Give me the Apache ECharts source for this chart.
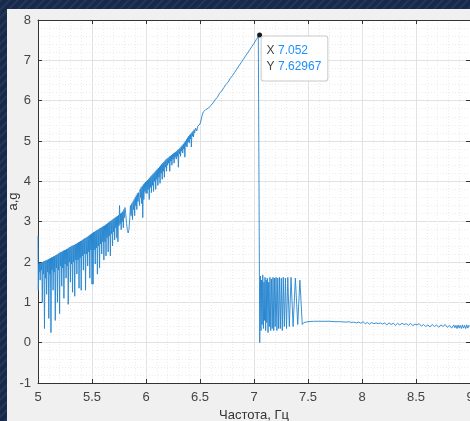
<!DOCTYPE html>
<html><head><meta charset="utf-8">
<script src="https://cdn.jsdelivr.net/npm/echarts@6/dist/echarts.min.js"></script>
<style>
html,body{margin:0;padding:0;width:470px;height:421px;overflow:hidden;}
body{background:#182a4c;background-image:repeating-linear-gradient(135deg,rgba(255,255,255,0.05) 0px,rgba(255,255,255,0.05) 2px,rgba(0,0,0,0) 2px,rgba(0,0,0,0) 6px);}
#panel{position:absolute;left:7px;top:9px;width:463px;height:412px;background:#f0f0f0;}
#chart{position:absolute;left:0;top:0;width:470px;height:421px;}
</style></head>
<body><div id="panel"></div><div id="chart"></div>
<script>
// x tick labels / axis
const xTicks = [5, 5.5, 6, 6.5, 7, 7.5, 8, 8.5, 9];
const yTicks = [-1, 0, 1, 2, 3, 4, 5, 6, 7, 8];
const xName = 'Частота, Гц';
const yName = 'a,g';
const peak = [7.052, 7.62967];

// segment 1: 5.00 - 5.50, deep dips
const seg1 = [[5.000,2.65],[5.003,1.30],[5.006,1.95],[5.010,1.75],[5.015,1.98],[5.020,1.55],[5.025,1.97],[5.030,1.80],[5.035,2.00],[5.040,1.00],[5.045,2.00],[5.050,1.70],[5.055,2.02],[5.060,0.35],[5.065,2.03],[5.070,1.60],[5.075,2.04],[5.080,1.20],[5.085,2.05],[5.090,1.75],[5.095,2.07],[5.100,0.60],[5.105,2.08],[5.110,1.70],[5.115,2.10],[5.120,0.25],[5.125,2.11],[5.130,1.80],[5.135,2.12],[5.140,1.30],[5.145,2.14],[5.150,1.75],[5.155,2.15],[5.160,0.55],[5.165,2.17],[5.170,1.85],[5.175,2.18],[5.180,1.00],[5.185,2.20],[5.190,1.80],[5.195,2.22],[5.200,0.72],[5.205,2.24],[5.210,1.90],[5.215,2.25],[5.220,1.40],[5.225,2.26],[5.230,1.85],[5.235,2.28],[5.240,1.10],[5.245,2.29],[5.250,1.95],[5.255,2.30],[5.260,1.60],[5.265,2.32],[5.270,1.90],[5.275,2.33],[5.280,0.95],[5.285,2.35],[5.290,2.00],[5.295,2.37],[5.300,1.50],[5.305,2.38],[5.310,1.95],[5.315,2.40],[5.320,1.25],[5.325,2.41],[5.330,2.00],[5.335,2.42],[5.340,1.15],[5.345,2.44],[5.350,2.05],[5.355,2.45],[5.360,1.70],[5.365,2.47],[5.370,2.05],[5.375,2.49],[5.380,1.35],[5.385,2.50],[5.390,2.10],[5.395,2.52],[5.400,1.30],[5.405,2.53],[5.410,2.15],[5.415,2.55],[5.420,1.80],[5.425,2.57],[5.430,2.20],[5.435,2.59],[5.440,1.30],[5.445,2.60],[5.450,2.20],[5.455,2.62],[5.460,1.90],[5.465,2.64],[5.470,2.25],[5.475,2.66],[5.480,1.60],[5.485,2.68],[5.490,2.30],[5.495,2.70],[5.500,1.45],[5.505,2.72]];
// segment 2: 5.51 - 6.00
const seg2 = [[5.510,1.45],[5.515,2.74],[5.520,2.30],[5.525,2.75],[5.530,1.95],[5.535,2.77],[5.540,2.35],[5.545,2.79],[5.550,1.70],[5.555,2.80],[5.560,2.40],[5.565,2.82],[5.570,1.85],[5.575,2.84],[5.580,2.45],[5.585,2.85],[5.590,2.20],[5.595,2.87],[5.600,2.50],[5.605,2.89],[5.610,2.05],[5.615,2.90],[5.620,2.50],[5.625,2.92],[5.630,2.15],[5.635,2.94],[5.640,2.60],[5.645,2.96],[5.650,2.25],[5.655,2.98],[5.660,2.65],[5.665,3.00],[5.670,2.15],[5.675,3.02],[5.680,2.70],[5.685,3.04],[5.690,2.40],[5.695,3.06],[5.700,2.75],[5.705,3.08],[5.710,2.55],[5.715,3.10],[5.720,2.85],[5.725,3.12],[5.730,2.60],[5.735,3.14],[5.740,2.50],[5.745,3.16],[5.750,2.90],[5.755,3.40],[5.760,2.95],[5.765,3.20],[5.770,2.80],[5.775,3.22],[5.780,3.00],[5.785,3.25],[5.790,2.85],[5.795,3.30],[5.800,3.10],[5.805,3.35],[5.812,3.20],[5.820,2.95],[5.828,2.78],[5.835,2.72],[5.842,2.80],[5.850,3.10],[5.856,3.40],[5.862,3.15],[5.868,3.45],[5.875,3.05],[5.880,3.50],[5.885,3.30],[5.890,3.55],[5.895,3.15],[5.900,3.60],[5.905,3.40],[5.910,3.65],[5.915,3.30],[5.920,3.70],[5.925,3.50],[5.930,3.72],[5.935,3.75],[5.940,3.40],[5.945,3.80],[5.950,3.60],[5.955,3.85],[5.960,3.45],[5.965,3.88],[5.970,3.10],[5.975,3.92],[5.980,3.55],[5.985,3.95],[5.990,3.75],[5.995,3.98],[6.000,3.70]];
// segment 3: 6.00 - 6.55
const seg3 = [[6.005,4.00],[6.010,3.70],[6.015,4.03],[6.020,3.80],[6.025,4.06],[6.030,3.55],[6.035,4.09],[6.040,3.85],[6.045,4.12],[6.050,3.72],[6.055,4.15],[6.060,3.90],[6.065,4.18],[6.070,3.75],[6.075,4.21],[6.080,4.00],[6.085,4.24],[6.090,3.80],[6.095,4.27],[6.100,4.05],[6.105,4.30],[6.110,3.90],[6.115,4.33],[6.120,4.10],[6.125,4.36],[6.130,3.95],[6.135,4.39],[6.140,4.20],[6.145,4.42],[6.150,4.05],[6.155,4.45],[6.160,4.25],[6.165,4.48],[6.170,4.10],[6.175,4.51],[6.180,4.35],[6.185,4.54],[6.190,4.25],[6.195,4.56],[6.200,4.40],[6.205,4.58],[6.210,4.45],[6.215,4.61],[6.220,4.25],[6.225,4.63],[6.230,4.50],[6.235,4.65],[6.240,4.40],[6.245,4.67],[6.250,4.55],[6.255,4.69],[6.260,4.45],[6.265,4.71],[6.270,4.60],[6.275,4.73],[6.280,4.55],[6.285,4.75],[6.290,4.62],[6.295,4.78],[6.300,4.35],[6.305,4.80],[6.310,4.68],[6.315,4.83],[6.320,4.62],[6.325,4.86],[6.330,4.75],[6.335,4.89],[6.340,4.70],[6.345,4.92],[6.350,4.80],[6.355,4.96],[6.360,4.60],[6.365,5.00],[6.370,4.88],[6.375,5.04],[6.380,4.85],[6.385,5.08],[6.390,4.98],[6.395,5.12],[6.400,4.95],[6.405,5.15],[6.410,5.05],[6.415,5.18],[6.420,4.85],[6.425,5.21],[6.430,5.12],[6.435,5.24],[6.440,5.10],[6.445,5.28],[6.450,5.20],[6.460,5.32],[6.470,5.25],[6.480,5.37],[6.490,5.35],[6.500,5.42],[6.510,5.52],[6.520,5.64],[6.530,5.72],[6.540,5.75],[6.550,5.77]];
// segment 4: smooth rise to the peak
const seg4 = [[6.58,5.82],[6.60,5.88],[6.62,5.94],[6.64,6.02],[6.66,6.08],[6.68,6.18],[6.70,6.24],[6.72,6.32],[6.74,6.40],[6.76,6.46],[6.78,6.55],[6.80,6.62],[6.82,6.70],[6.84,6.78],[6.86,6.86],[6.88,6.94],[6.90,7.02],[6.92,7.10],[6.94,7.18],[6.96,7.26],[6.98,7.34],[7.00,7.42],[7.02,7.51],[7.04,7.59],[7.052,7.62967]];
// segment 5: drop and oscillation
const seg5 = [[7.053,0.00],[7.060,1.65],[7.065,0.30],[7.070,1.55],[7.075,0.45],[7.081,1.68],[7.087,0.35],[7.092,1.50],[7.097,0.55],[7.102,1.62],[7.108,0.30],[7.113,1.55],[7.118,0.50],[7.123,1.60],[7.130,0.25],[7.136,1.50],[7.142,0.40],[7.148,1.62],[7.155,0.30],[7.162,1.58],[7.169,0.35],[7.176,1.62],[7.183,0.30],[7.190,1.60],[7.196,0.40],[7.204,1.62],[7.212,0.30],[7.220,1.60],[7.228,0.35],[7.236,1.62],[7.244,0.35],[7.253,1.60],[7.262,0.30],[7.271,1.62],[7.281,0.40],[7.291,1.60],[7.301,0.35],[7.313,1.62],[7.327,0.40],[7.343,1.62],[7.362,0.40],[7.383,1.60],[7.405,0.45],[7.425,1.55],[7.447,0.45],[7.462,0.50]];
// segment 6: flat tail
const seg6 = [[7.50,0.52],[7.55,0.53],[7.60,0.53],[7.65,0.53],[7.70,0.53],[7.75,0.52],[7.80,0.52],[7.85,0.51],[7.88,0.52],[7.90,0.50],[7.92,0.51],[7.95,0.49],[7.97,0.51],[7.99,0.48],[8.01,0.52],[8.03,0.47],[8.05,0.50],[8.07,0.46],[8.09,0.50],[8.11,0.47],[8.13,0.49],[8.15,0.47],[8.17,0.49],[8.19,0.46],[8.21,0.49],[8.23,0.44],[8.25,0.49],[8.27,0.45],[8.29,0.48],[8.31,0.43],[8.33,0.48],[8.35,0.44],[8.37,0.48],[8.39,0.45],[8.41,0.47],[8.43,0.43],[8.45,0.48],[8.47,0.42],[8.49,0.46],[8.51,0.44],[8.53,0.47],[8.55,0.41],[8.57,0.45],[8.59,0.40],[8.61,0.44],[8.63,0.39],[8.65,0.45],[8.67,0.40],[8.69,0.44],[8.71,0.38],[8.73,0.44],[8.75,0.40],[8.77,0.45],[8.79,0.38],[8.81,0.43],[8.83,0.36],[8.85,0.44],[8.86,0.37],[8.87,0.43],[8.88,0.35],[8.89,0.44],[8.90,0.36],[8.91,0.43],[8.92,0.35],[8.93,0.44],[8.94,0.36],[8.95,0.43],[8.96,0.35],[8.97,0.44],[8.98,0.36],[8.99,0.43],[9.00,0.40]];

const data = [].concat(seg1, seg2, seg3, seg4, seg5, seg6);

const FONT = 'Liberation Sans Narrow, Liberation Sans, Arial, sans-serif';
const gridLine = { show: true, lineStyle: { color: '#e2e2e2', width: 1 } };
const minorLine = { show: true, lineStyle: { color: '#ececec', width: 1, type: [1, 2] } };
const axisLineStyle = { show: true, onZero: false, lineStyle: { color: '#333', width: 1 } };

const chart = echarts.init(document.getElementById('chart'), null, { renderer: 'canvas' });
chart.setOption({
  animation: false,
  backgroundColor: 'transparent',
  grid: { left: 38, top: 20, right: 0, bottom: 38, containLabel: false, outerBoundsMode: 'none', show: true, backgroundColor: '#ffffff', borderWidth: 0 },
  xAxis: [{
    type: 'value', min: xTicks[0], max: xTicks[xTicks.length - 1], interval: 0.5,
    name: xName, nameLocation: 'middle', nameGap: 26, nameMoveOverlap: false,
    nameTextStyle: { color: '#333', fontSize: 13, fontFamily: FONT },
    axisLine: axisLineStyle,
    axisTick: { show: true, inside: true, length: 4, lineStyle: { color: '#333' } },
    minorTick: { show: false, splitNumber: 5 },
    axisLabel: { color: '#444', fontSize: 13, fontFamily: FONT, margin: 8, formatter: v => String(v) },
    splitLine: gridLine, minorSplitLine: minorLine
  }, {
    type: 'value', position: 'top', min: xTicks[0], max: xTicks[xTicks.length - 1], interval: 0.5,
    axisLine: axisLineStyle,
    axisTick: { show: true, inside: true, length: 4, lineStyle: { color: '#333' } },
    axisLabel: { show: false }, splitLine: { show: false }
  }],
  yAxis: [{
    type: 'value', min: yTicks[0], max: yTicks[yTicks.length - 1], interval: 1,
    name: yName, nameLocation: 'middle', nameGap: 18, nameRotate: 90, nameMoveOverlap: false,
    nameTextStyle: { color: '#333', fontSize: 13, fontFamily: FONT },
    axisLine: axisLineStyle,
    axisTick: { show: true, inside: true, length: 4, lineStyle: { color: '#333' } },
    minorTick: { show: false, splitNumber: 5 },
    axisLabel: { color: '#444', fontSize: 13, fontFamily: FONT, margin: 7 },
    splitLine: gridLine, minorSplitLine: minorLine
  }, {
    type: 'value', position: 'right', min: yTicks[0], max: yTicks[yTicks.length - 1], interval: 1,
    axisLine: axisLineStyle,
    axisTick: { show: true, inside: true, length: 4, lineStyle: { color: '#333' } },
    axisLabel: { show: false }, splitLine: { show: false }
  }],
  series: [{
    type: 'line', data: data, showSymbol: false, symbol: 'none',
    lineStyle: { color: '#2585cf', width: 0.9 },
    markPoint: {
      symbol: 'circle', symbolSize: 5,
      itemStyle: { color: '#1a1a1a' },
      data: [{ coord: peak }],
      label: {
        show: true, position: [4.5, 4],
        formatter: '{k|X} {v|' + peak[0] + '}\n{k|Y} {v|' + peak[1] + '}',
        backgroundColor: '#ffffff', borderColor: '#c8c8c8', borderWidth: 1, borderRadius: 2,
        padding: [6, 6, 6, 5], align: 'left', verticalAlign: 'top',
        rich: {
          k: { color: '#444', fontSize: 12, fontFamily: FONT, lineHeight: 16 },
          v: { color: '#1e8fff', fontSize: 12, fontFamily: FONT, lineHeight: 16 }
        }
      }
    }
  }]
});
</script></body></html>
